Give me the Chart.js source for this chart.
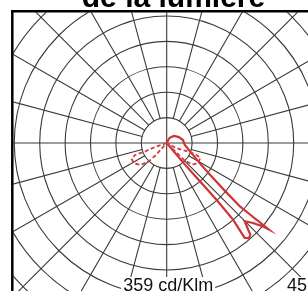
<!DOCTYPE html>
<html>
<head>
<meta charset="utf-8">
<script src="https://cdn.jsdelivr.net/npm/chart.js@4"></script>
<style>
  html, body { margin: 0; padding: 0; background: #fff; }
  canvas { display: block; }
</style>
</head>
<body>
<canvas id="polarChart" width="308" height="291"></canvas>
<script>
// angles in degrees from nadir (0 = straight down, + = to the right), values in cd/klm
const solidAngles = [40, 40.2, 41.3, 40.9, 39.4, 40.9, 42.4, 43.2, 44.9, 47.2, 49.1, 49.7, 49.6, 49.4, 49.1, 50.4, 53.1, 58.4, 68.6, 83.8, 100.4, 116, 133.8, 150.8, 180];
const solidValues = [0, 73, 179, 240, 290, 297, 293, 281, 261, 278, 301, 314, 295, 265, 229, 182, 134, 92, 62, 43, 39, 32, 24, 14, 0];
const dashedAngles = [0, -71.1, -68.6, -69.3, -65.4, -57.9, -50.5, -44.5, -41.7, 0, 61.7, 67.5, 68.8, 66.1, 56.8, 49.6, 45.5, 45.9, 0];
const dashedValues = [0, 29, 55, 80, 91, 91, 81, 63, 38, 0, 25, 49, 72, 87, 88, 78, 57, 30, 0];
const ringStep = 60;
const ringCount = 9;
const spokeAngles = [15, 30, 45, 60, 75, 105, 120, 135, 150, 165, 195, 210, 225, 240, 255, 285, 300, 315, 330, 345];
const titleText = 'de la lumière';
const unitLabel = '359 cd/Klm';
const angleLabel = '45°';

// layout of the picture
const W = 308, H = 291;
const CX = 166.7, CY = 143;
const PX_PER_RING = 25.4;
const pxPerUnit = PX_PER_RING / ringStep;
const FRAME_L = 12.3, FRAME_T = 11.3;

const toPoints = (angles, values) => angles.map((a, i) => {
    const t = a * Math.PI / 180;
    return { x: values[i] * Math.sin(t), y: -values[i] * Math.cos(t) };
});

const polarGrid = {
    id: 'polarGrid',
    beforeDatasetsDraw(chart) {
        const { ctx, scales: { x, y } } = chart;
        const cx = x.getPixelForValue(0);
        const cy = y.getPixelForValue(0);
        const ring = x.getPixelForValue(ringStep) - cx;

        ctx.save();
        ctx.beginPath();
        ctx.rect(FRAME_L + 1, FRAME_T + 1, W, H);
        ctx.clip();
        ctx.strokeStyle = '#3a3a3a';
        ctx.lineWidth = 1.1;
        for (let k = 1; k <= ringCount; k++) {
            ctx.beginPath();
            ctx.arc(cx, cy, k * ring, 0, Math.PI * 2);
            ctx.stroke();
        }
        spokeAngles.forEach(a => {
            const t = a * Math.PI / 180;
            ctx.beginPath();
            ctx.moveTo(cx + ring * Math.sin(t), cy + ring * Math.cos(t));
            ctx.lineTo(cx + ring * ringCount * Math.sin(t), cy + ring * ringCount * Math.cos(t));
            ctx.stroke();
        });
        ctx.beginPath();
        ctx.moveTo(0, cy); ctx.lineTo(W, cy);
        ctx.moveTo(cx, 0); ctx.lineTo(cx, H);
        ctx.stroke();

        // labels on white boxes
        ctx.font = '18px "Liberation Sans", Arial, sans-serif';
        ctx.textBaseline = 'alphabetic';
        const uw = ctx.measureText(unitLabel).width;
        const ux = cx + 1.5, uy = 291;
        ctx.fillStyle = '#fff';
        ctx.fillRect(ux - uw / 2 - 2, uy - 14, uw + 4, 20);
        ctx.fillStyle = '#111';
        ctx.textAlign = 'center';
        ctx.fillText(unitLabel, ux, uy);
        const aw = ctx.measureText(angleLabel).width;
        ctx.fillStyle = '#fff';
        ctx.fillRect(285, uy - 14, aw + 4, 20);
        ctx.fillStyle = '#111';
        ctx.textAlign = 'left';
        ctx.fillText(angleLabel, 287, uy);
        ctx.restore();

        // frame
        ctx.save();
        ctx.strokeStyle = '#000';
        ctx.lineWidth = 2.5;
        ctx.beginPath();
        ctx.moveTo(FRAME_L, H + 5);
        ctx.lineTo(FRAME_L, FRAME_T);
        ctx.lineTo(W + 5, FRAME_T);
        ctx.stroke();

        // title, mostly above the picture
        ctx.font = 'bold 30px "Liberation Sans", Arial, sans-serif';
        ctx.fillStyle = '#000';
        ctx.textAlign = 'center';
        ctx.textBaseline = 'alphabetic';
        ctx.fillText(titleText, 173.5, 7);
        ctx.restore();
    }
};

new Chart(document.getElementById('polarChart').getContext('2d'), {
    type: 'scatter',
    data: {
        datasets: [
            {
                label: 'C90-C270',
                data: toPoints(dashedAngles, dashedValues),
                showLine: true,
                borderColor: '#d43c3c',
                borderWidth: 1.8,
                borderDash: [4, 2.5],
                pointRadius: 0,
                tension: 0
            },
            {
                label: 'C0-C180',
                data: toPoints(solidAngles, solidValues),
                showLine: true,
                borderColor: '#cf3333',
                borderWidth: 2.2,
                pointRadius: 0,
                tension: 0
            }
        ]
    },
    options: {
        responsive: false,
        animation: false,
        devicePixelRatio: 1,
        layout: { padding: 0 },
        scales: {
            x: { type: 'linear', display: false, min: -CX / pxPerUnit, max: (W - CX) / pxPerUnit },
            y: { type: 'linear', display: false, min: -(H - CY) / pxPerUnit, max: CY / pxPerUnit }
        },
        plugins: {
            legend: { display: false },
            tooltip: { enabled: false }
        }
    },
    plugins: [polarGrid]
});
</script>
</body>
</html>
